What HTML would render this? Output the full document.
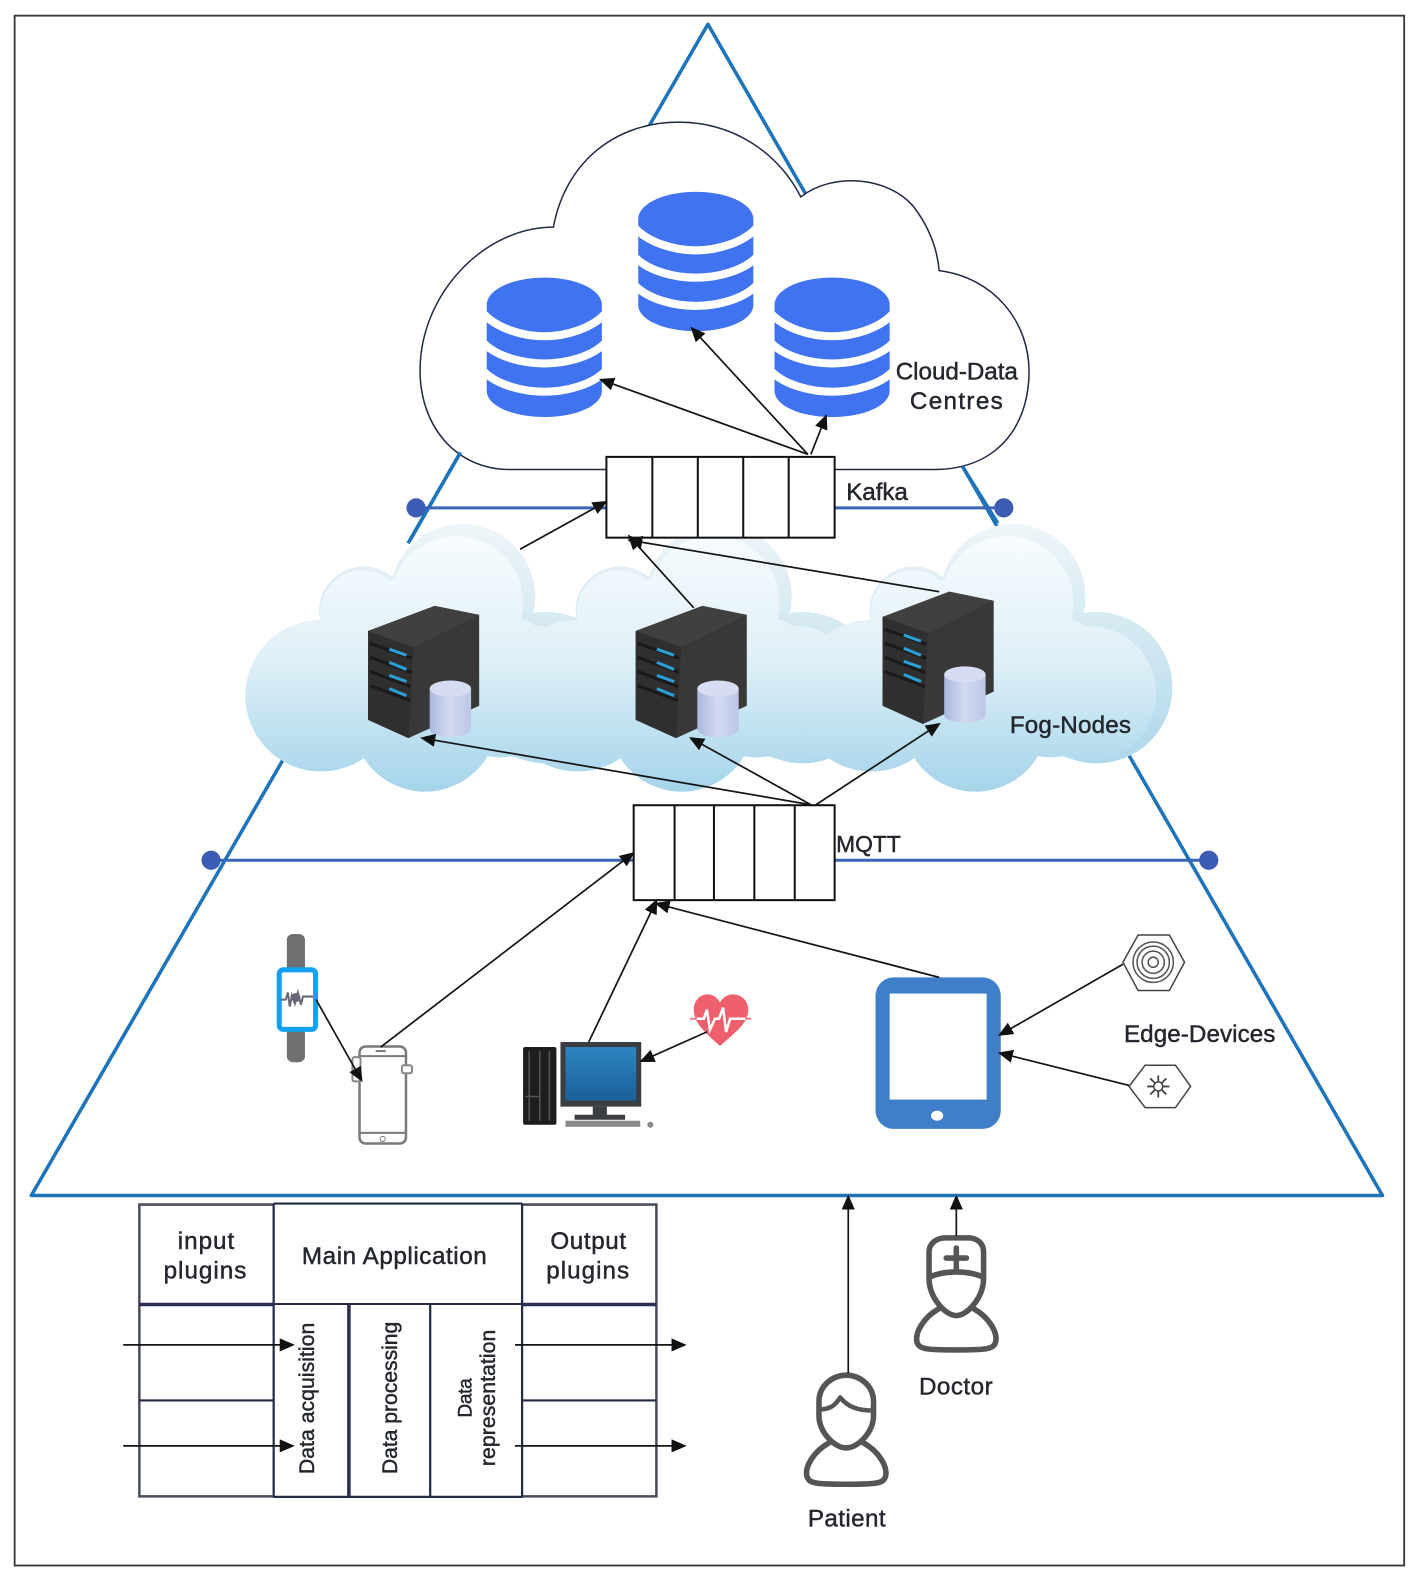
<!DOCTYPE html>
<html><head><meta charset="utf-8"><style>html,body{margin:0;padding:0;background:#fff}svg{display:block}
text{font-family:"Liberation Sans",sans-serif;font-size:24px;fill:#24282e;stroke:#24282e;stroke-width:.45px}</style></head><body>
<svg xmlns="http://www.w3.org/2000/svg" width="1417" height="1584" viewBox="0 0 1403.2 1568.8" preserveAspectRatio="none">
<defs>
<linearGradient id="fog" gradientUnits="userSpaceOnUse" x1="0" y1="525" x2="0" y2="785"><stop offset="0" stop-color="#f8fcfe"/><stop offset=".5" stop-color="#dff0f7"/><stop offset="1" stop-color="#a4d4ea"/></linearGradient>
<linearGradient id="rim" gradientUnits="userSpaceOnUse" x1="0" y1="520" x2="0" y2="785"><stop offset="0" stop-color="#eef6f9"/><stop offset=".5" stop-color="#cde5f0"/><stop offset="1" stop-color="#a4d4ea"/></linearGradient>
<linearGradient id="cyl" x1="0" y1="0" x2="1" y2="0"><stop offset="0" stop-color="#aab8de"/><stop offset=".5" stop-color="#d3daf0"/><stop offset="1" stop-color="#bcc6e6"/></linearGradient>
<linearGradient id="scr" x1="0" y1="0" x2="0" y2="1"><stop offset="0" stop-color="#2d86c0"/><stop offset="1" stop-color="#1b5f9a"/></linearGradient>
<marker id="a" markerWidth="15" markerHeight="13" refX="13" refY="6.500" orient="auto" markerUnits="userSpaceOnUse"><path d="M0 0L15 6.500L0 13Z" fill="#111"/></marker>
<g id="cloudR" fill="url(#rim)">
<circle cx="1003" cy="591" r="72"/><circle cx="905" cy="605" r="44"/><circle cx="863" cy="689" r="75"/><circle cx="1086" cy="681" r="75"/><circle cx="966" cy="712" r="72"/><circle cx="960" cy="650" r="80"/><circle cx="1040" cy="680" r="70"/>
</g>
<g id="cloudI" fill="url(#fog)">
<circle cx="997" cy="597" r="66"/><circle cx="904" cy="607" r="42"/><circle cx="863" cy="689" r="75"/><circle cx="1078" cy="687" r="67"/><circle cx="966" cy="712" r="72"/><circle cx="960" cy="650" r="80"/><circle cx="1040" cy="680" r="70"/>
</g>
<g id="srv">
<path d="M0 0L66-25L110-16L110 74L40 106L0 88Z" fill="#383838"/>
<path d="M0 0L66-25L110-16L45 16Z" fill="#414041"/>
<path d="M0 0L45 16L40 106L0 88Z" fill="#302f30"/>
<g stroke="#1a1a1a" stroke-width="3"><path d="M2 12L43 27M2 26L43 41M2 40L42 55M2 54L42 69"/></g>
<g stroke="#2a9fd8" stroke-width="3" fill="none"><path d="M21 18L38 24M21 31L38 38M21 44L38 50M21 57L38 64"/></g>
</g>
<g id="cy"><rect x="61" y="57" width="41" height="40" fill="url(#cyl)"/><ellipse cx="81.500" cy="97" rx="20.500" ry="8" fill="url(#cyl)"/><ellipse cx="81.500" cy="57" rx="20.500" ry="8" fill="#d6dcf2"/></g>
<g id="db"><path d="M0 27C0 12 25 0 57 0S114 12 114 27V112C114 127 88 138 57 138S0 127 0 112Z" fill="#3f73f1"/>
<g fill="none" stroke="#fff" stroke-width="8"><path d="M-3 36C10 50 35 58 57 58S104 50 117 36"/><path d="M-3 65C10 78 35 85 57 85S104 78 117 65"/><path d="M-3 93C10 106 35 113 57 113S104 106 117 93"/></g></g>
<g id="body"><path d="M930 1296C914 1305 906 1320 908 1329C910 1336 916 1337 947 1337S984 1336 986 1329C988 1320 980 1305 964 1296"/></g>
</defs>
<rect width="1404" height="1570" fill="#fff"/>
<rect x="14.500" y="15.500" width="1376" height="1535" fill="none" stroke="#33383d" stroke-width="1.800"/>
<path d="M701 24L31 1184H1369Z" fill="#fff" stroke="#1d74bb" stroke-width="3.500" stroke-linejoin="round"/>
<path d="M404 538L290 735M990 521L1112 735" stroke="#fff" stroke-width="7"/>
<path d="M505 465C450 465 415 420 416 365C417 290 480 225 548 225C560 160 610 121 672 121C725 121 770 150 793 195C825 170 880 175 905 205C920 225 928 245 930 268C985 275 1020 320 1019 370C1018 425 985 465 925 465Z" fill="#fff" stroke="#1f2a44" stroke-width="1.500"/>
<path d="M456 448L406 535M953 462L988 518" stroke="#1d74bb" stroke-width="3.500"/>
<path d="M413 503H600M827 503H994M209 852H627M827 852H1197" stroke="#3a66b8" stroke-width="3"/>
<g fill="#3d5db5"><circle cx="412" cy="503" r="9.500"/><circle cx="994" cy="503" r="9.500"/><circle cx="209" cy="852" r="9.500"/><circle cx="1197" cy="852" r="9.500"/></g>
<!-- fog clouds -->
<use href="#cloudR" x="-545"/><use href="#cloudI" x="-545"/>
<use href="#cloudR" x="-291"/><use href="#cloudI" x="-291"/>
<use href="#cloudR"/><use href="#cloudI"/>
<use href="#db" x="482" y="275"/><use href="#db" x="632" y="190"/><use href="#db" x="767" y="275"/>
<use href="#srv" x="364.500" y="625"/><use href="#cy" x="364.500" y="625"/>
<use href="#srv" x="629.500" y="625"/><use href="#cy" x="629.500" y="625"/>
<use href="#srv" x="874" y="611"/><use href="#cy" x="874" y="611"/>
<!-- queues -->
<rect x="600.500" y="452.500" width="226" height="80" fill="#fff" stroke="#111" stroke-width="2"/>
<path d="M646 452V532M691 452V532M736 452V532M781 452V532" stroke="#111" stroke-width="2"/>
<rect x="627.500" y="797.500" width="199" height="94" fill="#fff" stroke="#111" stroke-width="2"/>
<path d="M668 797V891M707 797V891M747 797V891M787 797V891" stroke="#111" stroke-width="2"/>
<!-- watch -->
<rect x="284" y="925" width="18" height="127" rx="6" fill="#707070"/>
<rect x="276.500" y="960.500" width="36" height="59" rx="4" fill="#fff" stroke="#12a0f0" stroke-width="5"/>
<path d="M278 990H283L285 983L287 997L289 986L292 994L295 983L298 995L300 987H310" fill="none" stroke="#667" stroke-width="2"/><circle cx="293" cy="988" r="4.500" fill="#667"/>
<!-- phone -->
<rect x="356" y="1036.500" width="46" height="96" rx="6" fill="#fff" stroke="#7a7a7a" stroke-width="2.500"/>
<path d="M357 1046H402M357 1122H402" stroke="#7a7a7a" stroke-width="2"/>
<rect x="349" y="1047" width="8" height="24" rx="2" fill="#fff" stroke="#888" stroke-width="2"/>
<rect x="398" y="1055" width="10" height="8" rx="2" fill="#fff" stroke="#888" stroke-width="2"/>
<circle cx="379" cy="1128" r="2.500" fill="none" stroke="#777"/><path d="M372 1041H382" stroke="#777" stroke-width="2"/>
<!-- pc -->
<rect x="518" y="1037" width="33" height="77" rx="2" fill="#1d1d1d"/><path d="M524 1041V1110M534.500 1041V1110M544 1041V1110M520 1086H534" stroke="#555" stroke-width="1.500"/>
<rect x="555" y="1032" width="80" height="64" fill="#3a3d42"/><rect x="560" y="1037" width="70" height="53" fill="url(#scr)"/>
<path d="M587 1096h14v8h18v5h-50v-5h18z" fill="#3a3d42"/>
<rect x="560" y="1110" width="74" height="6" fill="#8a8a8a"/><circle cx="644" cy="1114" r="3" fill="#888"/>
<!-- heart -->
<path d="M713 1036C700 1024 687 1014 687 1000C687 984 706 979 713 993C720 979 741 984 741 1000C741 1014 726 1024 713 1036Z" fill="#ef5f6d"/>
<path d="M683 1009H690M738 1009H744" stroke="#ef7f8a" stroke-width="2"/>
<path d="M690 1009H697L700 1000L703 1020L708 1009H712L716 998L719 1022L723 1009H738" fill="none" stroke="#fff" stroke-width="2.500"/>
<!-- tablet -->
<rect x="867" y="968" width="124" height="150" rx="18" fill="#3f7fc9"/><rect x="881" y="984" width="96" height="105" fill="#fff"/><ellipse cx="928" cy="1105" rx="6" ry="5" fill="#fff"/>
<!-- hexagons -->
<path d="M1127 926H1158L1173 953L1158 981H1127L1112 953Z" fill="#fff" stroke="#444" stroke-width="1.500"/>
<g fill="none" stroke="#555" stroke-width="1.500"><circle cx="1142" cy="953" r="5"/><circle cx="1142" cy="953" r="11"/><circle cx="1142" cy="953" r="16"/><circle cx="1142" cy="953" r="20"/></g>
<path d="M1134 1055H1164L1179 1076L1164 1097H1134L1118 1076Z" fill="#fff" stroke="#444" stroke-width="1.500"/>
<g stroke="#444" stroke-width="1.800"><path d="M1147 1065V1087M1136 1076H1158M1139 1068L1155 1084M1155 1068L1139 1084"/></g><circle cx="1147" cy="1076" r="4.500" fill="#fff" stroke="#444" stroke-width="1.500"/>
<!-- table -->
<g fill="none" stroke="#4a4f5c" stroke-width="2.500"><path d="M517 1193H650V1482H517M271 1193H138V1482H271"/></g>
<g fill="none" stroke="#222a44" stroke-width="2.200">
<path d="M271 1192H517M271 1482.500H517M271 1192V1483M517 1192V1483M426 1292V1483M138 1387H271M517 1387H650"/>
</g>
<path d="M345.500 1292V1483" stroke="#2a3050" stroke-width="3.500"/>
<path d="M271 1291.500H517" stroke="#222a44" stroke-width="2"/>
<path d="M138 1292H271M517 1292H650" stroke="#2a2f5c" stroke-width="3.500"/>
<!-- persons -->
<g fill="none" stroke="#555" stroke-width="5.500" stroke-linejoin="round" stroke-linecap="round">
<use href="#body"/>
<path d="M920 1266V1240C920 1231 928 1226 936 1226H959C967 1226 974 1231 974 1240V1266C974 1285 958 1303 947 1303S920 1285 920 1266Z" fill="#fff"/>
<path d="M920 1265C935 1258 959 1258 974 1265"/>
<use href="#body" x="-109" y="133"/>
<path d="M811 1402V1388C811 1372 825 1362 838 1362S865 1372 865 1388V1402C865 1418 850 1434 838 1434S811 1418 811 1402Z" fill="#fff"/>
<path d="M811 1396C822 1396 827 1392 832 1384C840 1394 850 1397 865 1397" stroke-width="4.500"/>
<path d="M947 1236V1256M937 1246H957"/>
</g>
<!-- arrows -->
<g stroke="#151515" stroke-width="1.700" fill="none">
<path d="M800 450L595 376" marker-end="url(#a)"/><path d="M800 450L685 325" marker-end="url(#a)"/><path d="M803 450L818 412" marker-end="url(#a)"/>
<path d="M515 544L600 497" marker-end="url(#a)"/><path d="M687 602L623 531" marker-end="url(#a)"/><path d="M930 586L623 535" marker-end="url(#a)"/>
<path d="M803 797L418 731" marker-end="url(#a)"/><path d="M803 797L684 731" marker-end="url(#a)"/><path d="M808 797L930 717" marker-end="url(#a)"/>
<path d="M377 1037L627 845" marker-end="url(#a)"/><path d="M583 1032L650 892" marker-end="url(#a)"/><path d="M930 968L650 895" marker-end="url(#a)"/>
<path d="M313 990L358 1070" marker-end="url(#a)"/><path d="M700 1022L635 1051" marker-end="url(#a)"/>
<path d="M1112 955L990 1025" marker-end="url(#a)"/><path d="M1118 1075L990 1043" marker-end="url(#a)"/>
<path d="M840 1360V1185" marker-end="url(#a)"/><path d="M947 1224V1185" marker-end="url(#a)"/>
<path d="M122 1332H290" marker-end="url(#a)"/><path d="M122 1432H290" marker-end="url(#a)"/><path d="M510 1332H678" marker-end="url(#a)"/><path d="M510 1432H678" marker-end="url(#a)"/>
</g>
<!-- labels -->
<text x="887" y="376" textLength="121">Cloud-Data</text>
<text x="901" y="405" textLength="92">Centres</text>
<text x="838" y="495" textLength="61">Kafka</text>
<text x="1000" y="726" textLength="120">Fog-Nodes</text>
<text x="828" y="844" style="font-size:22.600px" textLength="64">MQTT</text>
<text x="1113" y="1032" textLength="150">Edge-Devices</text>
<text x="176" y="1237" textLength="56">input</text>
<text x="162" y="1266" textLength="82">plugins</text>
<text x="299" y="1252" textLength="183">Main Application</text>
<text x="545" y="1237" textLength="75">Output</text>
<text x="541" y="1266" textLength="82">plugins</text>
<text x="910" y="1381" textLength="73">Doctor</text>
<text x="800" y="1512" textLength="77">Patient</text>
<text style="font-size:21px" transform="translate(311,1460) rotate(-90)" textLength="150">Data acquisition</text>
<text style="font-size:21px" transform="translate(393,1460) rotate(-90)" textLength="151">Data processing</text>
<text style="font-size:19px" transform="translate(467,1404) rotate(-90)" textLength="39">Data</text>
<text style="font-size:21px" transform="translate(490,1452) rotate(-90)" textLength="135">representation</text>
</svg>
</body></html>
